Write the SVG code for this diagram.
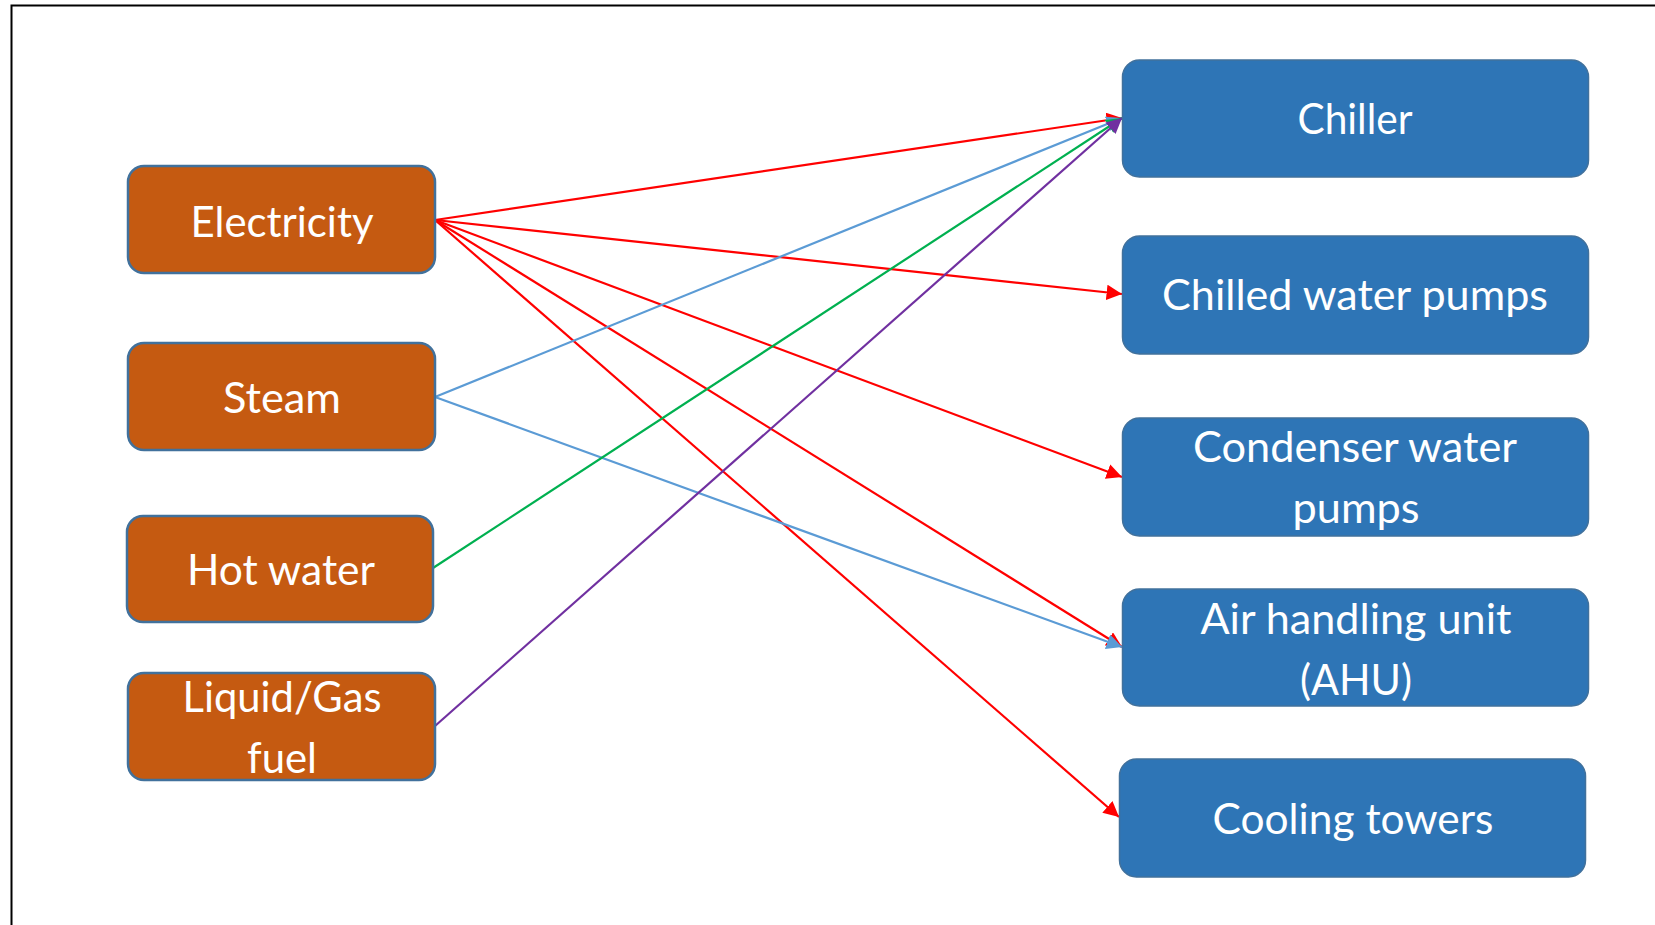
<svg xmlns="http://www.w3.org/2000/svg" width="1655" height="925" viewBox="0 0 1655 925">
<defs>
<style>
.src{fill:#C55A11;stroke:#41719C;stroke-width:2.5}
.dst{fill:#2E75B6;stroke:#41719C;stroke-width:1.5}
.t{font-family:Lato,"Open Sans","Liberation Sans",sans-serif;font-size:43px;fill:#FFFFFF;text-anchor:middle}
.c{fill:none;stroke-width:2.2}
.red{stroke:#FF0000}
.blue{stroke:#5B9BD5}
.green{stroke:#00B050}
.purple{stroke:#7030A0}
</style>
<marker id="aR" viewBox="0 0 10 10" refX="10" refY="5" markerWidth="7" markerHeight="7" orient="auto" markerUnits="strokeWidth"><path d="M0,0 L10,5 L0,10 Z" fill="#FF0000"/></marker>
<marker id="aB" viewBox="0 0 10 10" refX="10" refY="5" markerWidth="7" markerHeight="7" orient="auto" markerUnits="strokeWidth"><path d="M0,0 L10,5 L0,10 Z" fill="#5B9BD5"/></marker>
<marker id="aG" viewBox="0 0 10 10" refX="10" refY="5" markerWidth="7" markerHeight="7" orient="auto" markerUnits="strokeWidth"><path d="M0,0 L10,5 L0,10 Z" fill="#00B050"/></marker>
<marker id="aP" viewBox="0 0 10 10" refX="10" refY="5" markerWidth="7" markerHeight="7" orient="auto" markerUnits="strokeWidth"><path d="M0,0 L10,5 L0,10 Z" fill="#7030A0"/></marker>
</defs>
<rect width="1655" height="925" fill="#FFFFFF"/>
<rect x="11.5" y="5.5" width="1700" height="1000" fill="none" stroke="#000000" stroke-width="2"/>

<g id="connectors">
<line class="c red" x1="435" y1="220" x2="1122" y2="118" marker-end="url(#aR)"/>
<line class="c red" x1="435" y1="220" x2="1122" y2="294" marker-end="url(#aR)"/>
<line class="c red" x1="435" y1="220" x2="1122" y2="477" marker-end="url(#aR)"/>
<line class="c red" x1="435" y1="220" x2="1122" y2="647" marker-end="url(#aR)"/>
<line class="c red" x1="435" y1="220" x2="1119" y2="817" marker-end="url(#aR)"/>
<line class="c blue" x1="435" y1="397" x2="1122" y2="118" marker-end="url(#aB)"/>
<line class="c blue" x1="435" y1="397" x2="1122" y2="647" marker-end="url(#aB)"/>
<line class="c green" x1="433" y1="568" x2="1122" y2="118" marker-end="url(#aG)"/>
<line class="c purple" x1="435" y1="726" x2="1122" y2="118" marker-end="url(#aP)"/>
</g>

<g id="electricity">
<rect class="src" x="128" y="166" width="307" height="107" rx="16"/>
<text class="t" x="282" y="237" textLength="183" lengthAdjust="spacingAndGlyphs">Electricity</text>
</g>
<g id="steam">
<rect class="src" x="128" y="343" width="307" height="107" rx="16"/>
<text class="t" x="282" y="413" textLength="118" lengthAdjust="spacingAndGlyphs">Steam</text>
</g>
<g id="hot-water">
<rect class="src" x="127" y="516" width="306" height="106" rx="16"/>
<text class="t" x="281" y="585" textLength="188" lengthAdjust="spacingAndGlyphs">Hot water</text>
</g>
<g id="liquid-gas-fuel">
<rect class="src" x="128" y="673" width="307" height="107" rx="16"/>
<text class="t" x="282" y="712" textLength="199" lengthAdjust="spacingAndGlyphs">Liquid/Gas</text>
<text class="t" x="282" y="773" textLength="70" lengthAdjust="spacingAndGlyphs">fuel</text>
</g>

<g id="chiller">
<rect class="dst" x="1122.5" y="60" width="466" height="117" rx="17"/>
<text class="t" x="1355" y="134" textLength="115" lengthAdjust="spacingAndGlyphs">Chiller</text>
</g>
<g id="chilled-water-pumps">
<rect class="dst" x="1122.5" y="236" width="466" height="118" rx="17"/>
<text class="t" x="1355" y="310" textLength="386" lengthAdjust="spacingAndGlyphs">Chilled water pumps</text>
</g>
<g id="condenser-water-pumps">
<rect class="dst" x="1122.5" y="418" width="466" height="118" rx="17"/>
<text class="t" x="1355" y="462" textLength="324" lengthAdjust="spacingAndGlyphs">Condenser water</text>
<text class="t" x="1356" y="523" textLength="127" lengthAdjust="spacingAndGlyphs">pumps</text>
</g>
<g id="ahu">
<rect class="dst" x="1122.5" y="589" width="466" height="117" rx="17"/>
<text class="t" x="1356" y="634" textLength="311" lengthAdjust="spacingAndGlyphs">Air handling unit</text>
<text class="t" x="1356" y="695" textLength="112" lengthAdjust="spacingAndGlyphs">(AHU)</text>
</g>
<g id="cooling-towers">
<rect class="dst" x="1119.5" y="759" width="466" height="118" rx="17"/>
<text class="t" x="1353" y="834" textLength="281" lengthAdjust="spacingAndGlyphs">Cooling towers</text>
</g>
</svg>
